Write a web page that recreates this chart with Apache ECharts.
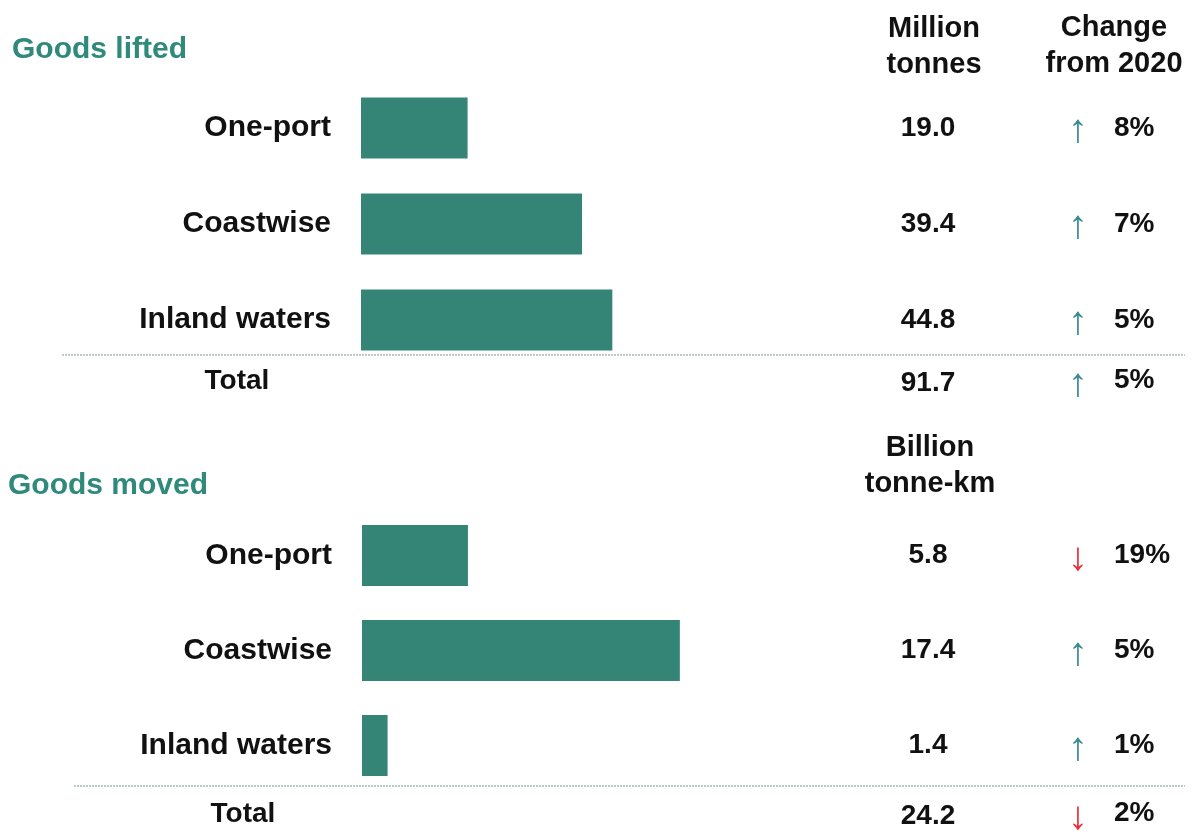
<!DOCTYPE html>
<html><head><meta charset="utf-8">
<script src="https://cdn.jsdelivr.net/npm/echarts@6/dist/echarts.min.js"></script>
<style>html,body{margin:0;padding:0;background:#fff}#c{width:1194px;height:832px}</style>
</head><body><div id="c"></div>
<script>
const categories = ['One-port', 'Coastwise', 'Inland waters'];
const liftedValues = [19.0, 39.4, 44.8];
const liftedChange = [8, 7, 5];
const liftedTotal = 91.7;
const liftedTotalChange = 5;
const movedValues = [5.8, 17.4, 1.4];
const movedChange = [-19, 5, 1];
const movedTotal = 24.2;
const movedTotalChange = -2;
const sectionTitles = ['Goods lifted', 'Goods moved'];
const unitHeaders = [['Million', 'tonnes'], ['Billion', 'tonne-km']];
const changeHeader = ['Change', 'from 2020'];

const FONT = 'Liberation Sans';
const BAR = '#348575';
const TITLE = '#2f8a7c';
const UP = '#3b8a92';
const DOWN = '#e8313a';
const LINE = '#b9cdc6';

const chart = echarts.init(document.getElementById('c'), null, {renderer: 'canvas'});

const grids = [
  {left: 361, top: 80, width: 561, height: 288},
  {left: 362, top: 508, width: 548, height: 285}
];
const maxes = [100, 30];
const vals = [liftedValues, movedValues];
const chg = [liftedChange, movedChange];
const VALX = 928, ARROWX = 1078, PCTX = 1114;

const xAxis = [], yAxis = [], series = [];
const hid = {axisLine: {show: false}, axisTick: {show: false}, splitLine: {show: false}};
grids.forEach((g, i) => {
  const r = g.left + g.width;
  xAxis.push({gridIndex: i, type: 'value', min: 0, max: maxes[i], show: false});
  yAxis.push(Object.assign({gridIndex: i, type: 'category', data: categories, inverse: true,
    axisLabel: {margin: 30, fontFamily: FONT, fontWeight: 'bold', fontSize: 30, color: '#111'}}, hid));
  yAxis.push(Object.assign({gridIndex: i, type: 'category', data: vals[i].map(v => v.toFixed(1)), inverse: true, position: 'right',
    axisLabel: {margin: VALX - r, align: 'center', fontFamily: FONT, fontWeight: 'bold', fontSize: 28, color: '#111'}}, hid));
  yAxis.push(Object.assign({gridIndex: i, type: 'category', data: chg[i].map(v => v >= 0 ? 'up' : 'down'), inverse: true, position: 'right', offset: ARROWX - r,
    axisLabel: {margin: 0, align: 'center', fontFamily: FONT, fontSize: 40,
      formatter: v => v === 'up' ? '{u|\u2191}' : '{d|\u2193}',
      rich: {u: {color: UP, fontSize: 40, fontFamily: FONT, padding: [6, 0, 0, 0]}, d: {color: DOWN, fontSize: 40, fontFamily: FONT, padding: [6, 0, 0, 0]}}}}, hid));
  yAxis.push(Object.assign({gridIndex: i, type: 'category', data: chg[i].map(v => Math.abs(v) + '%'), inverse: true, position: 'right', offset: PCTX - r,
    axisLabel: {margin: 0, align: 'left', fontFamily: FONT, fontWeight: 'bold', fontSize: 28, color: '#111', padding: [0, 0, 8, 0]}}, hid));
  series.push({type: 'bar', xAxisIndex: i, yAxisIndex: i * 4, data: vals[i], barWidth: 61,
    itemStyle: {color: BAR}, silent: true, animation: false});
});

const txt = (x, y, s, o) => Object.assign({type: 'text', x, y, style: Object.assign({text: s, fontFamily: FONT, fontWeight: 'bold', fontSize: 28, fill: '#111', textAlign: 'center', textVerticalAlign: 'middle'}, o || {})});
const line = (x1, x2, y) => ({type: 'line', shape: {x1, y1: y, x2, y2: y}, style: {stroke: LINE, lineWidth: 2, lineDash: [2, 1]}});

const totals = [liftedTotal, movedTotal];
const totalChanges = [liftedTotalChange, movedTotalChange];
const totalY = [381, 814];
const graphic = [
  txt(12, 50, sectionTitles[0], {textAlign: 'left', fill: TITLE, fontSize: 30}),
  txt(8, 486, sectionTitles[1], {textAlign: 'left', fill: TITLE, fontSize: 30}),
  txt(934, 29, unitHeaders[0][0], {fontSize: 29}),
  txt(934, 65, unitHeaders[0][1], {fontSize: 29}),
  txt(1114, 28, changeHeader[0], {fontSize: 29}),
  txt(1114, 64, changeHeader[1], {fontSize: 29}),
  txt(930, 448, unitHeaders[1][0], {fontSize: 29}),
  txt(930, 484, unitHeaders[1][1], {fontSize: 29}),
  line(62, 1185, 355),
  line(74, 1185, 786)
];
totals.forEach((t, i) => {
  graphic.push(txt(i === 0 ? 237 : 243, totalY[i], 'Total', {fontSize: 28}));
  graphic.push(txt(VALX, totalY[i] + 2, t.toFixed(1)));
  const c = totalChanges[i];
  graphic.push(txt(ARROWX, totalY[i] + 4, c >= 0 ? '\u2191' : '\u2193', {fontWeight: 'normal', fontSize: 40, fill: c >= 0 ? UP : DOWN}));
  graphic.push(txt(PCTX, totalY[i] - 1, Math.abs(c) + '%', {textAlign: 'left'}));
});

chart.setOption({
  animation: false,
  grid: grids,
  xAxis, yAxis, series,
  graphic
});
</script></body></html>
